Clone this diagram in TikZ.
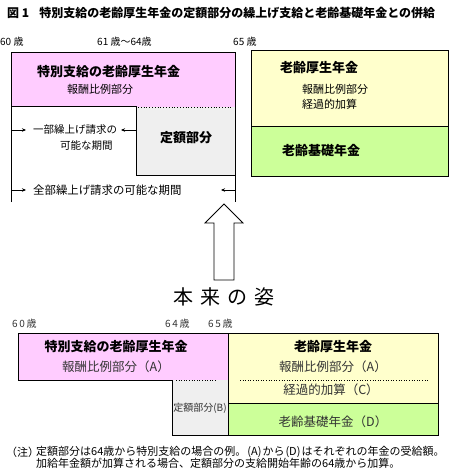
\documentclass[tikz,border=0pt]{standalone}
\usepackage{fontspec}
\setmainfont{Noto Sans CJK JP}
\newfontfamily\jp{Noto Sans CJK JP}
\usetikzlibrary{arrows.meta}
\definecolor{pinkc}{HTML}{FFCCFF}
\definecolor{yelc}{HTML}{FFFFCC}
\definecolor{grnc}{HTML}{CCFF99}
\definecolor{gryc}{HTML}{EFEFEF}
\definecolor{txtg}{HTML}{333333}
\newcommand{\fs}[1]{\fontsize{#1}{#1}\selectfont}
\tikzset{
  lbl/.style={inner sep=0pt, anchor=west, font=\jp\fs{11}},
  bld/.style={inner sep=0pt, font=\jp\bfseries\fs{13}},
  age/.style={inner sep=0pt, anchor=west, font=\jp\fs{10}},
  brd/.style={line width=1pt, draw=black},
  tip/.style={-{Stealth[length=4pt,width=3.5pt]}, line width=0.7pt},
  dots/.style={dotted, line width=0.8pt},
  note/.style={inner sep=0pt, anchor=west, font=\jp\fs{11}}
}
\begin{document}
\begin{tikzpicture}[x=1pt,y=-1pt]
\useasboundingbox (0,0) rectangle (450,470);
% title
\node[inner sep=0pt, anchor=west, font=\jp\bfseries\fs{12}] (title) at (7,13) {図 1\hspace{10pt}特別支給の老齢厚生年金の定額部分の繰上げ支給と老齢基礎年金との併給};
% ages top
\node[age] (a60) at (0,42) {60 歳};
\node[age] (a61) at (97,42) {61 歳～64歳};
\node[age] (a65) at (233,42) {65 歳};
% top-left block
\fill[pinkc] (11,53) rectangle (235,107);
\fill[gryc] (136,107) rectangle (235,176);
\draw[brd] (11,202) -- (11,53) -- (235,53) -- (235,202);
\draw[brd] (11,107) -- (136,107) -- (136,176) -- (235,176);
\draw[dots] (138,107) -- (233,107);
\node[bld, anchor=west] (tk) at (37,72) {特別支給の老齢厚生年金};
\node[lbl] (hh) at (67,89) {報酬比例部分};
\node[lbl, font=\jp\fs{10.5}] (ib) at (33,130) {一部繰上げ請求の};
\node[lbl, font=\jp\fs{10.5}] (ib2) at (60,146) {可能な期間};
\node[bld] (tg) at (186,138) {定額部分};
\node[lbl, font=\jp\fs{11.4}] (zb) at (33,190) {全部繰上げ請求の可能な期間};
\coordinate (p1) at (11,130); \coordinate (p1e) at (26,130);
\coordinate (p2) at (136,130); \coordinate (p2e) at (121,130);
\coordinate (p3) at (11,190); \coordinate (p3e) at (26,190);
\coordinate (p4) at (235,190); \coordinate (p4e) at (221,190);
\draw[tip] (p1) -- (p1e);
\draw[tip] (p2) -- (p2e);
\draw[tip] (p3) -- (p3e);
\draw[tip] (p4) -- (p4e);
% top-right block
\fill[yelc] (251,51) rectangle (448,127);
\fill[grnc] (251,127) rectangle (448,177);
\draw[brd] (251,51) rectangle (448,177);
\draw[brd] (251,127) -- (448,127);
\node[bld, anchor=west] (rk) at (280,68) {老齢厚生年金};
\node[lbl] (rh) at (302,89) {報酬比例部分};
\node[lbl] (rkk) at (302,104) {経過的加算};
\node[bld, anchor=west] (rkb) at (282,151) {老齢基礎年金};
% big arrow
\draw[line width=0.8pt, fill=white] (214,280) -- (214,223) -- (205,223) -- (224,204) -- (243,223) -- (234,223) -- (234,280) -- cycle;
\node[inner sep=0pt, font=\jp\fs{20}] (hs) at (224,297) {本\hspace{7pt}来\hspace{7pt}の\hspace{7pt}姿};
% bottom ages
\node[age, text=txtg] (b60) at (12,324) {6\,0\,歳};
\node[age, text=txtg] (b64) at (165,324) {6\,4\,歳};
\node[age, text=txtg] (b65) at (208,324) {6\,5\,歳};
% bottom blocks
\fill[pinkc] (18,333) rectangle (228,380);
\fill[gryc] (172,380) rectangle (228,435);
\fill[yelc] (228,333) rectangle (438,403);
\fill[grnc] (228,403) rectangle (438,435);
\draw[line width=0.9pt] (172,380) -- (18,380) -- (18,333) -- (438,333) -- (438,435) -- (172,435) -- cycle;
\draw[line width=0.9pt] (228,333) -- (228,435);
\draw[line width=0.9pt] (228,403) -- (438,403);
\draw[dots, line width=0.6pt] (176,380) -- (217,380);
\draw[dots, line width=0.6pt] (240,380) -- (428,380);
\node[bld] (bt) at (116,347) {特別支給の老齢厚生年金};
\node[inner sep=0pt, font=\jp\fs{12.5}, text=txtg] (ba) at (116,367) {報酬比例部分（A）};
\node[inner sep=0pt, font=\jp\fs{10}, text=txtg] (bb) at (200,408) {定額部分(B)};
\node[bld] (brk) at (333,347) {老齢厚生年金};
\node[inner sep=0pt, font=\jp\fs{12.5}, text=txtg] (bra) at (333,367) {報酬比例部分（A）};
\node[inner sep=0pt, font=\jp\fs{12.5}, text=txtg] (brc) at (331,390) {経過的加算（C）};
\node[inner sep=0pt, font=\jp\fs{12.5}, text=txtg] (brd) at (333,422) {老齢基礎年金（D）};
% notes
\node[note] (n0) at (6,452) {（注）};
\node[note] (n1) at (36,452) {定額部分は64歳から特別支給の場合の例。\hspace{1pt}(A)\hspace{1pt}から\hspace{1pt}(D)\hspace{1pt}はそれぞれの年金の受給額。};
\node[note] (n2) at (36,463) {加給年金額が加算される場合、定額部分の支給開始年齢の64歳から加算。};
\end{tikzpicture}
\end{document}
